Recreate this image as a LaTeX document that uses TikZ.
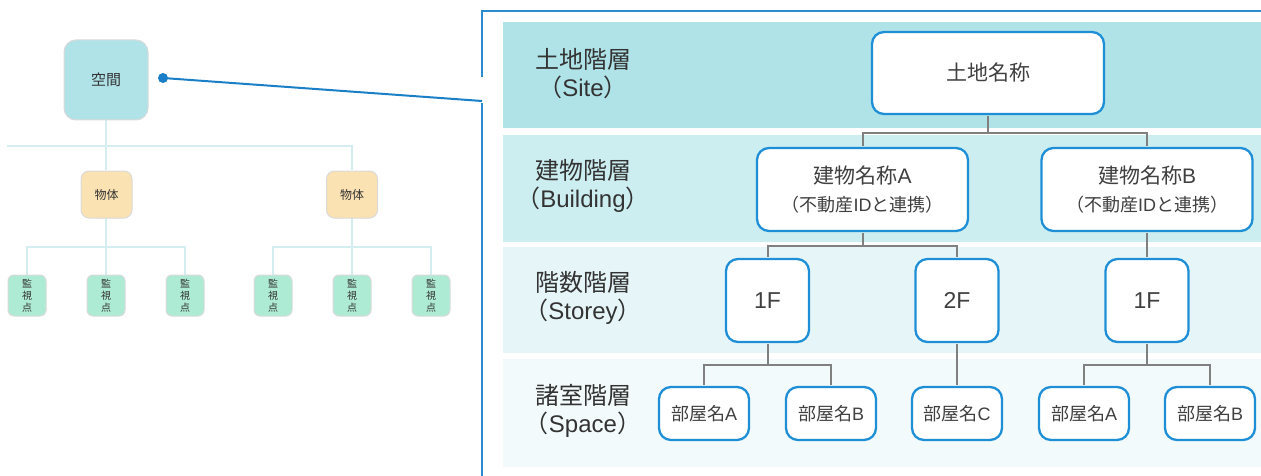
\documentclass[tikz,border=0pt]{standalone}
\usepackage{fontspec}
\setmainfont{Noto Sans CJK JP}
\newfontfamily\lat{Liberation Sans}
\definecolor{siteC}{HTML}{B0E3E8}
\definecolor{bldC}{HTML}{CCEEF1}
\definecolor{stoC}{HTML}{E6F6F8}
\definecolor{spcC}{HTML}{F3FAFB}
\definecolor{nblue}{HTML}{1E8FD6}
\definecolor{fblue}{HTML}{2A8CCF}
\definecolor{dblue}{HTML}{1A7FC6}
\definecolor{cgray}{HTML}{808080}
\definecolor{ntext}{HTML}{404040}
\definecolor{ltext}{HTML}{333333}
\definecolor{treeC}{HTML}{D3EDF1}
\definecolor{lbord}{HTML}{DADADA}
\definecolor{objC}{HTML}{FBE2B3}
\definecolor{monC}{HTML}{AEEBD4}
\begin{document}
\begin{tikzpicture}[x=1pt,y=-1pt,
  nbox/.style={draw=nblue, line width=2.3pt, rounded corners=12pt, fill=white, text=ntext, align=center, inner sep=0pt},
  roombox/.style={nbox, minimum width=90pt, minimum height=53pt, font=\fontsize{18}{22}\selectfont},
  floorbox/.style={nbox, minimum width=83pt, minimum height=83pt, font=\fontsize{23}{26}\selectfont\lat},
  bldbox/.style={nbox, minimum width=211pt, minimum height=83pt, font=\fontsize{21}{28}\selectfont},
  conn/.style={draw=cgray, line width=2pt, shorten <=1.2pt, shorten >=1.2pt},
  lbl/.style={align=center, text=ltext, font=\fontsize{24}{28}\selectfont, inner sep=0pt},
  lbase/.style={draw=lbord, line width=1pt, rounded corners=#1, inner sep=0pt, text=ltext, align=center},
  spacebox/.style={lbase=12pt, fill=siteC, minimum width=84pt, minimum height=80pt, font=\fontsize{15}{18}\selectfont},
  objbox/.style={lbase=8pt, fill=objC, minimum width=51pt, minimum height=47pt, font=\fontsize{12}{14}\selectfont},
  monbox/.style={lbase=6pt, fill=monC, minimum width=38pt, minimum height=41pt, font=\fontsize{10}{12}\selectfont},
  ltree/.style={draw=treeC, line width=1.5pt}
]
\useasboundingbox (0,0) rectangle (1261,476);
% bands
\fill[siteC] (503,22) rectangle (1261,128);
\fill[bldC] (503,135) rectangle (1261,242);
\fill[stoC] (503,247) rectangle (1261,353);
\fill[spcC] (503,359) rectangle (1261,467);
% frame
\draw[fblue, line width=2pt] (482,77) -- (482,11) -- (1261,11);
\draw[fblue, line width=2pt] (482,103) -- (482,476);
% labels
\node[lbl] (lsite) at (583,74) {土地階層\\（{\lat Site}）};
\node[lbl] (lbld) at (583,186) {建物階層\\（{\lat Building}）};
\node[lbl] (lsto) at (583,298) {階数階層\\（{\lat Storey}）};
\node[lbl] (lspc) at (583,411) {諸室階層\\（{\lat Space}）};
% right tree nodes
\node[nbox, minimum width=232pt, minimum height=82pt, font=\fontsize{21}{26}\selectfont] (site) at (988,73) {土地名称};
\node[bldbox] (bA) at (862.5,189.5) {建物名称{\lat A}\\\fontsize{18}{28}\selectfont（不動産{\lat ID}と連携）};
\node[bldbox] (bB) at (1147,189.5) {建物名称{\lat B}\\\fontsize{18}{28}\selectfont（不動産{\lat ID}と連携）};
\node[floorbox] (f1A) at (767.5,300.5) {1F};
\node[floorbox] (f2) at (957,300.5) {2F};
\node[floorbox] (f1B) at (1147,300.5) {1F};
\node[roombox] (rA1) at (704,413.5) {部屋名{\lat A}};
\node[roombox] (rB1) at (831,413.5) {部屋名{\lat B}};
\node[roombox] (rC) at (957,413.5) {部屋名{\lat C}};
\node[roombox] (rA2) at (1084,413.5) {部屋名{\lat A}};
\node[roombox] (rB2) at (1210,413.5) {部屋名{\lat B}};
% connectors
\draw[conn] (site.south) -- ++(0,18) -| (bA.north);
\draw[conn] (site.south) -- ++(0,18) -| (bB.north);
\draw[conn] (bA.south) -- ++(0,14) -| (f1A.north);
\draw[conn] (bA.south) -- ++(0,14) -| (f2.north);
\draw[conn] (bB.south) -- (f1B.north);
\draw[conn] (f1A.south) -- ++(0,22) -| (rA1.north);
\draw[conn] (f1A.south) -- ++(0,22) -| (rB1.north);
\draw[conn] (f2.south) -- (rC.north);
\draw[conn] (f1B.south) -- ++(0,22) -| (rA2.north);
\draw[conn] (f1B.south) -- ++(0,22) -| (rB2.north);
% left tree
\coordinate (tl) at (7,146);
\coordinate (fend) at (482,101);
\draw[ltree] (tl) -| (352,170);
\draw[ltree] (106,120) -- (106,170);
\draw[ltree] (106,218) -- (106,275);
\draw[ltree] (27,275) |- (185,247) -- (185,275);
\draw[ltree] (352,218) -- (352,275);
\draw[ltree] (273,275) |- (431,247) -- (431,275);
\node[spacebox] (space) at (106,80) {空間};
\node[objbox] (o1) at (106.5,194.5) {物体};
\node[objbox] (o2) at (352,194.5) {物体};
\foreach \i/\x in {1/27,2/106,3/185,4/273,5/352,6/431}
  \node[monbox] (m\i) at (\x,295.5) {監\\視\\点};
% callout
\node[circle, fill=dblue, minimum size=10pt, inner sep=0pt] (dot) at (163,78) {};
\draw[dblue, line width=2pt] (dot.center) -- (fend);
\end{tikzpicture}
\end{document}
